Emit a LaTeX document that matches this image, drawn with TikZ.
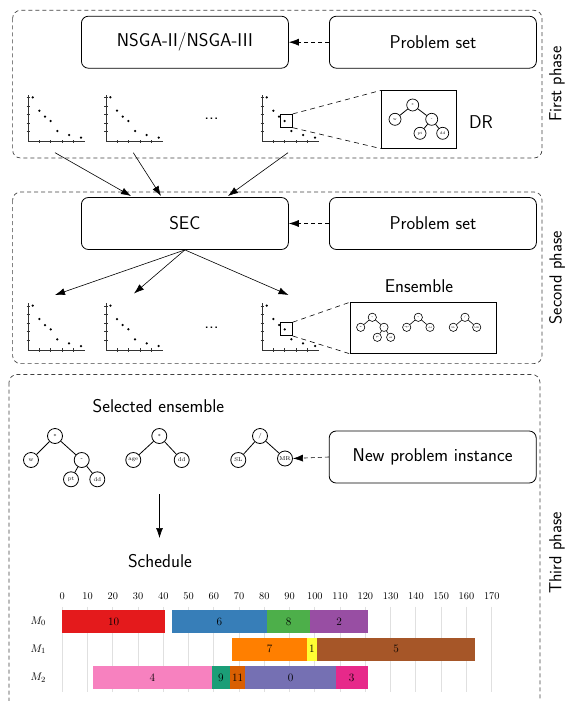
\documentclass[tikz,border=0pt]{standalone}
\usepackage{fontspec}
\usetikzlibrary{arrows.meta}
\newcommand{\bigsf}{\sffamily\fontsize{18.5}{21}\selectfont}
\definecolor{cA}{HTML}{E41A1C}
\definecolor{cB}{HTML}{377EB8}
\definecolor{cC}{HTML}{4DAF4A}
\definecolor{cD}{HTML}{984EA3}
\definecolor{cE}{HTML}{FF7F00}
\definecolor{cF}{HTML}{FFFF33}
\definecolor{cG}{HTML}{A65628}
\definecolor{cH}{HTML}{F781BF}
\definecolor{cI}{HTML}{1B9E77}
\definecolor{cJ}{HTML}{D95F02}
\definecolor{cK}{HTML}{7570B3}
\definecolor{cL}{HTML}{E7298A}
\newcommand{\pplot}[3]{%
  \begin{scope}[shift={(#1,#2)}]
    \coordinate (#3) at (0,0);
    \draw[paxis] (0,-46.7) -- (0,0) -- (56.7,0);
    \foreach \t in {10,18.5,27,35.5,44} \draw[paxis] (-1.6,-\t) -- (1.6,-\t);
    \foreach \t in {11,22.5,34,45.5} \draw[paxis] (\t,-1.6) -- (\t,1.6);
    \foreach \a/\b in {4.4/-44.4,11/-31,16.7/-25,22.4/-20.7,29/-10.7,40.7/-6.7,52.7/-4}
      \fill (\a,\b) circle (1.25);
  \end{scope}}
\newcommand{\gx}[1]{62.3+#1*2.526}
\newcommand{\gbar}[7]{%
  \fill[#4] ({\gx{#2}},#1) rectangle ({\gx{#3}},#1+22.8);
  \node[glabel] (#6) at ({\gx{(#2+#3)/2}},#1+11.4+#7) {#5};}
\begin{document}
\begin{tikzpicture}[x=1pt,y=-1pt,
  phase/.style={draw=black!75, dash pattern=on 4pt off 3pt, rounded corners=8pt, line width=0.7pt},
  box/.style={draw, rounded corners=7pt, minimum width=207pt, minimum height=52pt, inner sep=0pt, font=\bigsf, line width=0.8pt},
  lbl/.style={font=\bigsf, inner sep=0pt},
  plbl/.style={font=\sffamily\fontsize{17.5}{20}\selectfont, inner sep=0pt},
  arr/.style={-{Latex[length=10pt,width=7pt]}, line width=0.6pt},
  darr/.style={arr, dash pattern=on 4pt off 3pt},
  zline/.style={dash pattern=on 5pt off 4pt, line width=0.6pt},
  paxis/.style={line width=0.8pt, black!80},
  tn/.style={circle, draw, inner sep=0pt, minimum size=15pt, line width=0.8pt, font=\fontsize{5.6}{6}\selectfont},
  tm/.style={circle, draw, inner sep=0pt, minimum size=12pt, line width=0.7pt, font=\fontsize{3.8}{4}\selectfont},
  ts/.style={circle, draw, inner sep=0pt, minimum size=8.3pt, line width=0.6pt, font=\fontsize{2.4}{3}\selectfont},
  tedge/.style={line width=0.8pt},
  glabel/.style={inner sep=0pt, font=\fontsize{11.3}{13}\selectfont},
  gnum/.style={inner sep=0pt, font=\fontsize{10.3}{12}\selectfont},
]
\useasboundingbox (0,0) rectangle (568,701);

% ---------- First phase ----------
\draw[phase] (12.6,10.3) rectangle (542,158);
\node[plbl, rotate=90] (ph1) at (557,84.2) {First phase};
\node[box] (nsga) at (184.9,42.2) {NSGA-II/NSGA-III};
\node[box] (ps1) at (432.9,42.2) {Problem set};
\draw[darr] (ps1.west) -- (nsga.east);
\pplot{28.3}{141.7}{a1}
\pplot{106}{141.7}{a2}
\pplot{262.3}{141.7}{a3}
\node[lbl] (dots1) at (211.5,119) {...};
\node[draw, line width=0.8pt, minimum width=12.3pt, minimum height=13pt, inner sep=0pt] (sq1) at (286.2,120.8) {};
\node[draw, line width=0.8pt, minimum width=75pt, minimum height=57.6pt, inner sep=0pt] (drbox) at (419.2,119.5) {};
\node[lbl] (dr) at (481,121.7) {DR};
\draw[zline] (sq1.north east) -- (drbox.north west);
\draw[zline] (sq1.south east) -- (drbox.south west);
\node[tm] (d0) at (412.7,105) {*};
\node[tm] (d1) at (395,119.3) {w};
\node[tm] (d2) at (431.7,119.3) {-};
\node[tm] (d3) at (420,133.3) {pt};
\node[tm] (d4) at (442.7,133.3) {dd};
\draw[tedge] (d0) -- (d1) (d0) -- (d2) (d2) -- (d3) (d2) -- (d4);

% ---------- Second phase ----------
\draw[phase] (12.6,192) rectangle (542,363.6);
\node[plbl, rotate=90] (ph2) at (557,277.8) {Second phase};
\node[box] (sec) at (184.9,223.5) {SEC};
\node[box] (ps2) at (432.9,223.5) {Problem set};
\draw[darr] (ps2.west) -- (sec.east);
\coordinate (f1) at (55,152.7);
\coordinate (f2) at (133.3,152.7);
\coordinate (f3) at (288,152.7);
\coordinate (e1) at (131,196);
\coordinate (e2) at (161,196);
\coordinate (e3) at (228,196);
\draw[arr] (f1) -- (e1);
\draw[arr] (f2) -- (e2);
\draw[arr] (f3) -- (e3);
\coordinate (g1) at (55,295);
\coordinate (g2) at (134,293.5);
\coordinate (g3) at (288.5,295);
\draw[arr] (sec.south) -- (g1);
\draw[arr] (sec.south) -- (g2);
\draw[arr] (sec.south) -- (g3);
\pplot{28.3}{350}{b1}
\pplot{106}{350}{b2}
\pplot{262.3}{350}{b3}
\node[lbl] (dots2) at (211.5,327.3) {...};
\node[draw, line width=0.8pt, minimum width=12.3pt, minimum height=13pt, inner sep=0pt] (sq2) at (286.2,329.1) {};
\node[draw, line width=0.8pt, minimum width=146.7pt, minimum height=50.6pt, inner sep=0pt] (ensbox) at (423.4,328) {};
\node[lbl] (ens) at (419,286) {Ensemble};
\draw[zline] (sq2.north east) -- (ensbox.north west);
\draw[zline] (sq2.south east) -- (ensbox.south west);
% ensemble trees
\node[ts] (s10) at (372.3,317.3) {*};
\node[ts] (s11) at (360.7,327.3) {w};
\node[ts] (s12) at (384,327.3) {-};
\node[ts] (s13) at (377.3,337.3) {pt};
\node[ts] (s14) at (390.7,337.3) {dd};
\draw[line width=0.6pt] (s10) -- (s11) (s10) -- (s12) (s12) -- (s13) (s12) -- (s14);
\node[ts] (s20) at (418.3,317.3) {*};
\node[ts] (s21) at (406.7,327.3) {age};
\node[ts] (s22) at (430,327.3) {dd};
\draw[line width=0.6pt] (s20) -- (s21) (s20) -- (s22);
\node[ts] (s30) at (465,317.3) {/};
\node[ts] (s31) at (453.3,327.3) {SL};
\node[ts] (s32) at (476.7,327.3) {MR};
\draw[line width=0.6pt] (s30) -- (s31) (s30) -- (s32);

% ---------- Third phase ----------
\draw[phase] (9,374.5) rectangle (540,730);
\node[plbl, rotate=90] (ph3) at (557,553) {Third phase};
\node[lbl] (selens) at (158.4,406) {Selected ensemble};
\node[tn] (t10) at (55,436) {*};
\node[tn] (t11) at (31,460) {w};
\node[tn] (t12) at (81.7,460) {-};
\node[tn] (t13) at (71,479.3) {pt};
\node[tn] (t14) at (97.3,479.3) {dd};
\draw[tedge] (t10) -- (t11) (t10) -- (t12) (t12) -- (t13) (t12) -- (t14);
\node[tn] (t20) at (159.3,436) {*};
\node[tn] (t21) at (133.3,460) {age};
\node[tn] (t22) at (181.7,460) {dd};
\draw[tedge] (t20) -- (t21) (t20) -- (t22);
\node[tn] (t30) at (260,436) {/};
\node[tn] (t31) at (238.3,460) {SL};
\node[tn] (t32) at (285,458.5) {MR};
\draw[tedge] (t30) -- (t31) (t30) -- (t32);
\node[box] (npi) at (432.7,457) {New problem instance};
\draw[darr] (npi.west) -- (t32.east);
\coordinate (h1) at (159.5,494);
\coordinate (h2) at (159.5,538);
\draw[arr] (h1) -- (h2);
\node[lbl] (sched) at (160,561) {Schedule};

% ---------- Gantt chart ----------
\foreach \v in {0,10,...,170} {
  \draw[black!12, line width=0.9pt] ({\gx{\v}},606.7) -- ({\gx{\v}},691.7);
  \node[gnum] (n\v) at ({\gx{\v}},596) {\v};
}
\node[glabel] (m0) at (38.3,621.4) {$M_0$};
\node[glabel] (m1) at (38.3,649.2) {$M_1$};
\node[glabel] (m2) at (38.3,677.5) {$M_2$};
\gbar{610}{0}{40.7}{cA}{10}{b10}{0}
\gbar{610}{43.4}{81}{cB}{6}{b6}{0}
\gbar{610}{81}{98.2}{cC}{8}{b8}{0}
\gbar{610}{98.2}{120.9}{cD}{2}{b2}{0}
\gbar{637.8}{67.3}{96.8}{cE}{7}{b7}{0}
\gbar{637.8}{96.8}{100.8}{cF}{1}{b1}{0}
\gbar{637.8}{100.8}{163.5}{cG}{5}{b5}{0}
\gbar{666}{12}{59.3}{cH}{4}{b4}{0}
\gbar{666}{59.3}{66.3}{cI}{9}{b9}{0}
\gbar{666}{66.3}{72.5}{cJ}{11}{b11}{0}
\gbar{666}{72.5}{108.2}{cK}{0}{b0}{0}
\gbar{666}{108.2}{120.9}{cL}{3}{b3}{0}
\end{tikzpicture}
\end{document}
